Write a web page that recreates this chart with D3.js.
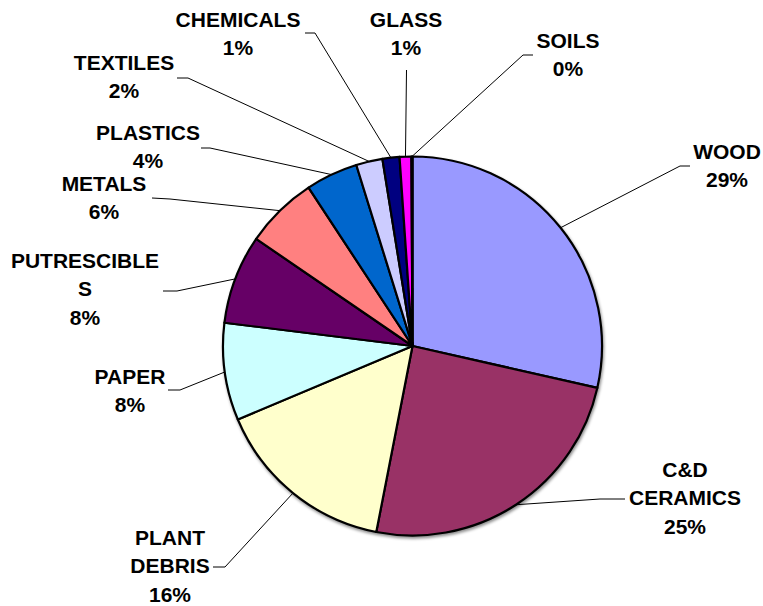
<!DOCTYPE html>
<html>
<head>
<meta charset="utf-8">
<script src="https://cdn.jsdelivr.net/npm/d3@7"></script>
<style>
  html, body { margin: 0; padding: 0; background: #fff; }
  svg { display: block; }
  text { font-family: "Liberation Sans", Arial, sans-serif; font-weight: bold; fill: #000; }
</style>
</head>
<body>
<svg id="chart" width="763" height="606"></svg>
<script>
// Waste composition by category (share of total, %)
const categories = ["WOOD", "C&D CERAMICS", "PLANT DEBRIS", "PAPER", "PUTRESCIBLES",
                    "METALS", "PLASTICS", "TEXTILES", "CHEMICALS", "GLASS", "SOILS"];
const values = [28.55, 24.51, 15.6, 8.3, 7.6, 6.2, 4.45, 2.25, 1.45, 1.0, 0.09];
const colors = ["#9999FF", "#993366", "#FFFFCC", "#CCFFFF", "#660066",
                "#FF8080", "#0066CC", "#CCCCFF", "#000080", "#FF00FF", "#FFFF00"];

// Label placement: text lines, centre x, first baseline, leader line bend points
const labelLayout = {
  "WOOD":          { lines: ["WOOD"],               cx: 727, y0: 159, leader: [[680, 166], [690, 166]] },
  "C&D CERAMICS":  { lines: ["C&D", "CERAMICS"],     cx: 685, y0: 477, leader: [[600, 499], [625, 499]] },
  "PLANT DEBRIS":  { lines: ["PLANT", "DEBRIS"],     cx: 170, y0: 545, leader: [[225, 567], [213, 567]] },
  "PAPER":         { lines: ["PAPER"],               cx: 130, y0: 384, leader: [[180, 390], [168, 390]] },
  "PUTRESCIBLES":  { lines: ["PUTRESCIBLE", "S"],    cx: 85,  y0: 268, leader: [[177, 291], [163, 291]] },
  "METALS":        { lines: ["METALS"],              cx: 104, y0: 191, leader: [[170, 199], [152, 198]] },
  "PLASTICS":      { lines: ["PLASTICS"],            cx: 148, y0: 140, leader: [[210, 148], [201, 148]] },
  "TEXTILES":      { lines: ["TEXTILES"],            cx: 124, y0: 70,  leader: [[188, 78], [177, 78]] },
  "CHEMICALS":     { lines: ["CHEMICALS"],           cx: 238, y0: 27,  leader: [[315, 33], [305, 33]] },
  "GLASS":         { lines: ["GLASS"],               cx: 406, y0: 27,  leader: [[406.5, 70]] },
  "SOILS":         { lines: ["SOILS"],               cx: 568, y0: 48,  leader: [[523, 55], [533, 55]] }
};

const cx = 412.5, cy = 346, radius = 189.5;
const lineGap = 28.3;
const fontSize = 20, stretchX = 1.05;

const svg = d3.select("#chart");

const defs = svg.append("defs");
const shadow = defs.append("filter").attr("id", "pieShadow")
  .attr("x", "-10%").attr("y", "-10%").attr("width", "120%").attr("height", "120%");
shadow.append("feDropShadow")
  .attr("dx", 1).attr("dy", 2).attr("stdDeviation", 1.5)
  .attr("flood-color", "#000").attr("flood-opacity", 0.45);

const data = categories.map((c, i) => ({ name: c, value: values[i], color: colors[i] }));
const total = d3.sum(values);

const pie = d3.pie().sort(null).value(d => d.value);
const arcs = pie(data);
const arc = d3.arc().innerRadius(0).outerRadius(radius);

const g = svg.append("g").attr("transform", `translate(${cx},${cy})`);

// Slices
g.append("g").attr("filter", "url(#pieShadow)")
  .selectAll("path")
  .data(arcs)
  .join("path")
  .attr("d", arc)
  .attr("fill", d => d.data.color)
  .attr("stroke", "#000")
  .attr("stroke-width", 2.2)
  .attr("stroke-linejoin", "round");

// Leader lines from each slice's mid-angle on the rim to its label
const leaderLine = d3.line();
svg.append("g")
  .selectAll("path")
  .data(arcs)
  .join("path")
  .attr("d", d => {
    const a = (d.startAngle + d.endAngle) / 2;
    const start = [cx + radius * Math.sin(a), cy - radius * Math.cos(a)];
    return leaderLine([start, ...labelLayout[d.data.name].leader]);
  })
  .attr("fill", "none")
  .attr("stroke", "#000")
  .attr("stroke-width", 1);

// Labels: category name lines followed by the rounded percentage
const labels = svg.append("g")
  .selectAll("g")
  .data(arcs)
  .join("g")
  .attr("transform", d => `translate(${labelLayout[d.data.name].cx},0)`);

labels.append("text")
  .attr("text-anchor", "middle")
  .attr("font-size", fontSize)
  .attr("transform", `scale(${stretchX},1)`)
  .each(function(d) {
    const lay = labelLayout[d.data.name];
    const lines = [...lay.lines, Math.round(d.data.value / total * 100) + "%"];
    d3.select(this).selectAll("tspan")
      .data(lines)
      .join("tspan")
      .attr("x", 0)
      .attr("y", (t, i) => lay.y0 + i * lineGap)
      .text(t => t);
  });
</script>
</body>
</html>
